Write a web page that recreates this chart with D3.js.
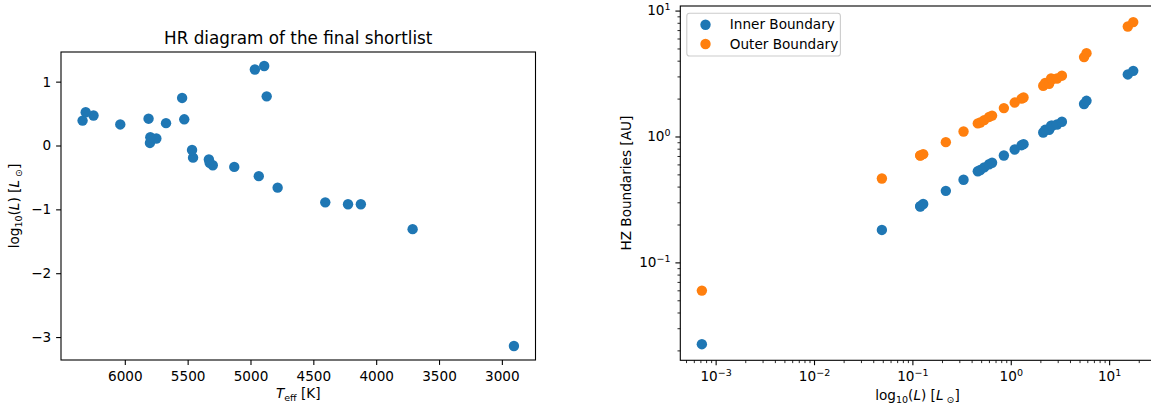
<!DOCTYPE html>
<html>
<head>
<meta charset="utf-8">
<script src="https://cdn.jsdelivr.net/npm/d3@7"></script>
<style>
  body { margin: 0; background: #fff; }
  svg { display: block; font-family: "DejaVu Sans", sans-serif; }
</style>
</head>
<body>
<svg id="fig" width="1151" height="409"></svg>
<script>
// Shortlisted stars, ordered by luminosity
// Effective temperature [K]
const teff = [2904, 3710, 4122, 4224, 4405, 4784, 4934, 5129, 5300, 5325, 5331, 5457, 5465,
              5800, 5749, 5797, 6036, 5672, 6336, 5527, 5811, 6249, 6311, 5544, 4871, 4965, 4891];
// log10 of luminosity [L_sun]
const logLum = [-3.14, -1.31, -0.92, -0.92, -0.89, -0.66, -0.48, -0.335, -0.31, -0.27, -0.22, -0.19, -0.07,
                0.04, 0.11, 0.13, 0.33, 0.35, 0.39, 0.41, 0.42, 0.47, 0.52, 0.745, 0.77, 1.19, 1.245];
// Habitable-zone inner and outer edges [AU]
const innerHZ = [0.0224, 0.181, 0.278, 0.280, 0.291, 0.370, 0.453, 0.530, 0.542, 0.568, 0.602, 0.619, 0.706,
                 0.788, 0.853, 0.869, 1.075, 1.13, 1.128, 1.218, 1.216, 1.245, 1.31, 1.81, 1.92, 3.11, 3.32];
const outerHZ = [0.0597, 0.464, 0.705, 0.708, 0.724, 0.902, 1.096, 1.27, 1.29, 1.35, 1.43, 1.465, 1.68,
                 1.86, 2.00, 2.04, 2.53, 2.66, 2.62, 2.89, 2.85, 2.89, 3.04, 4.27, 4.59, 7.48, 8.10];

const teffTicks = [6000, 5500, 5000, 4500, 4000, 3500, 3000];
const logLumTicks = [1, 0, -1, -2, -3];
const lumDecades = [-3, -2, -1, 0, 1];
const hzDecades = [-1, 0, 1];
const seriesNames = ["Inner Boundary", "Outer Boundary"];
const seriesColors = ["#1f77b4", "#ff7f0e"];

const luminosity = logLum.map(v => Math.pow(10, v));

const FS = 13.6;          // tick / label font size
const TITLE_FS = 16.8;
const MAJOR = 4.9, MINOR = 2.8, PAD = 4.9;
const R = 5.2;

const svg = d3.select("#fig");

// pad a [min,max] extent by 5% on each side
function padded(ext) { const m = (ext[1] - ext[0]) * 0.05; return [ext[0] - m, ext[1] + m]; }

// write mixed text: plain, italic, subscript and superscript runs
function rich(textSel, parts, size) {
  let shift = 0;
  parts.forEach(p => {
    const ts = textSel.append("tspan").text(p.t);
    const target = p.sub ? size * 0.24 : (p.sup ? -size * 0.42 : 0);
    if (target - shift !== 0) ts.attr("dy", target - shift);
    shift = target;
    if (p.sub || p.sup) ts.attr("font-size", size * 0.7);
    if (p.it) ts.attr("font-style", "italic");
  });
}

const lumLabel = [{t: "log"}, {t: "10", sub: 1}, {t: "("}, {t: "L", it: 1}, {t: ") ["},
                  {t: "L", it: 1}, {t: " \u2299", sub: 1}, {t: "]"}];

function styleAxis(g) {
  g.select(".domain").remove();
  g.selectAll(".tick line").attr("stroke", "#000").attr("stroke-width", 1.1);
  g.selectAll(".tick text").attr("fill", "#000").attr("font-size", FS).attr("font-family", "DejaVu Sans");
}

/* ---------------- Left panel: HR diagram ---------------- */
const L = {x0: 61, x1: 535.5, y0: 52, y1: 360};
const xT = d3.scaleLinear().domain(padded(d3.extent(teff)).reverse()).range([L.x0, L.x1]);
const yL = d3.scaleLinear().domain(padded(d3.extent(logLum))).range([L.y1, L.y0]);

const gL = svg.append("g");
gL.append("g").attr("transform", `translate(0,${L.y1})`)
  .call(d3.axisBottom(xT).tickValues(teffTicks).tickFormat(d3.format("d"))
        .tickSize(MAJOR).tickPadding(6.2))
  .call(styleAxis);
gL.append("g").attr("transform", `translate(${L.x0},0)`)
  .call(d3.axisLeft(yL).tickValues(logLumTicks).tickFormat(d3.format("d"))
        .tickSize(MAJOR).tickPadding(PAD))
  .call(styleAxis);

gL.append("g").selectAll("circle").data(teff).join("circle")
  .attr("cx", (d, i) => xT(d))
  .attr("cy", (d, i) => yL(logLum[i]))
  .attr("r", R)
  .attr("fill", seriesColors[0]);

gL.append("rect").attr("x", L.x0).attr("y", L.y0)
  .attr("width", L.x1 - L.x0).attr("height", L.y1 - L.y0)
  .attr("fill", "none").attr("stroke", "#000").attr("stroke-width", 1.1);

gL.append("text").attr("x", (L.x0 + L.x1) / 2).attr("y", 43.5)
  .attr("text-anchor", "middle").attr("font-size", TITLE_FS)
  .text("HR diagram of the final shortlist");

const xlabL = gL.append("text").attr("x", (L.x0 + L.x1) / 2).attr("y", 398)
  .attr("text-anchor", "middle").attr("font-size", FS);
rich(xlabL, [{t: "T", it: 1}, {t: "eff", sub: 1}, {t: " [K]"}], FS);

const ylabL = gL.append("text")
  .attr("transform", `translate(19,${(L.y0 + L.y1) / 2}) rotate(-90)`)
  .attr("text-anchor", "middle").attr("font-size", FS);
rich(ylabL, lumLabel, FS);

/* ---------------- Right panel: HZ boundaries ---------------- */
const Rp = {x0: 680.3, x1: 1154.8, y0: 6, y1: 360.3};
const lx = padded(d3.extent(luminosity).map(Math.log10));
const ly = padded(d3.extent(innerHZ.concat(outerHZ)).map(Math.log10));
const xLum = d3.scaleLog().domain(lx.map(v => Math.pow(10, v))).range([Rp.x0, Rp.x1]);
const yHZ = d3.scaleLog().domain(ly.map(v => Math.pow(10, v))).range([Rp.y1, Rp.y0]);

function minorTicks(scale) {
  const [a, b] = scale.domain();
  const out = [];
  for (let d = Math.floor(Math.log10(a)); d <= Math.ceil(Math.log10(b)); d++) {
    for (let k = 2; k <= 9; k++) {
      const v = k * Math.pow(10, d);
      if (v >= a && v <= b) out.push(v);
    }
  }
  return out;
}

function powLabel(sel, exps) {
  sel.selectAll(".tick text").each(function (d, i) {
    const t = d3.select(this).text("");
    const e = exps[i];
    rich(t, [{t: "10"}, {t: e < 0 ? "\u2212" + (-e) : String(e), sup: 1}], FS);
  });
}

const gR = svg.append("g");
// minor ticks
gR.append("g").attr("transform", `translate(0,${Rp.y1})`)
  .call(d3.axisBottom(xLum).tickValues(minorTicks(xLum)).tickFormat("").tickSize(MINOR))
  .call(g => { g.select(".domain").remove(); g.selectAll(".tick line").attr("stroke", "#000").attr("stroke-width", 0.85); });
gR.append("g").attr("transform", `translate(${Rp.x0},0)`)
  .call(d3.axisLeft(yHZ).tickValues(minorTicks(yHZ)).tickFormat("").tickSize(MINOR))
  .call(g => { g.select(".domain").remove(); g.selectAll(".tick line").attr("stroke", "#000").attr("stroke-width", 0.85); });
// major ticks
gR.append("g").attr("transform", `translate(0,${Rp.y1})`)
  .call(d3.axisBottom(xLum).tickValues(lumDecades.map(e => Math.pow(10, e))).tickSize(MAJOR).tickPadding(6.6))
  .call(styleAxis)
  .call(g => powLabel(g, lumDecades));
gR.append("g").attr("transform", `translate(${Rp.x0},0)`)
  .call(d3.axisLeft(yHZ).tickValues(hzDecades.map(e => Math.pow(10, e))).tickSize(MAJOR).tickPadding(PAD))
  .call(styleAxis)
  .call(g => powLabel(g, hzDecades));

[innerHZ, outerHZ].forEach((series, s) => {
  gR.append("g").selectAll("circle").data(series).join("circle")
    .attr("cx", (d, i) => xLum(luminosity[i]))
    .attr("cy", d => yHZ(d))
    .attr("r", R)
    .attr("fill", seriesColors[s]);
});

gR.append("rect").attr("x", Rp.x0).attr("y", Rp.y0)
  .attr("width", Rp.x1 - Rp.x0).attr("height", Rp.y1 - Rp.y0)
  .attr("fill", "none").attr("stroke", "#000").attr("stroke-width", 1.1);

const xlabR = gR.append("text").attr("x", (Rp.x0 + Rp.x1) / 2).attr("y", 399.5)
  .attr("text-anchor", "middle").attr("font-size", FS);
rich(xlabR, lumLabel, FS);

gR.append("text")
  .attr("transform", `translate(631,${(Rp.y0 + Rp.y1) / 2}) rotate(-90)`)
  .attr("text-anchor", "middle").attr("font-size", FS)
  .text("HZ Boundaries [AU]");

// legend
const leg = gR.append("g");
leg.append("rect").attr("x", 686.8).attr("y", 13.2).attr("width", 153.6).attr("height", 42.8)
  .attr("rx", 2.8).attr("fill", "#fff").attr("fill-opacity", 0.8)
  .attr("stroke", "#cccccc").attr("stroke-width", 1.1);
seriesNames.forEach((name, i) => {
  const cy = 24.7 + i * 19.3;
  leg.append("circle").attr("cx", 705.5).attr("cy", cy).attr("r", R).attr("fill", seriesColors[i]);
  leg.append("text").attr("x", 729.8).attr("y", cy).attr("dy", "0.35em")
    .attr("font-size", FS).text(name);
});
</script>
</body>
</html>
